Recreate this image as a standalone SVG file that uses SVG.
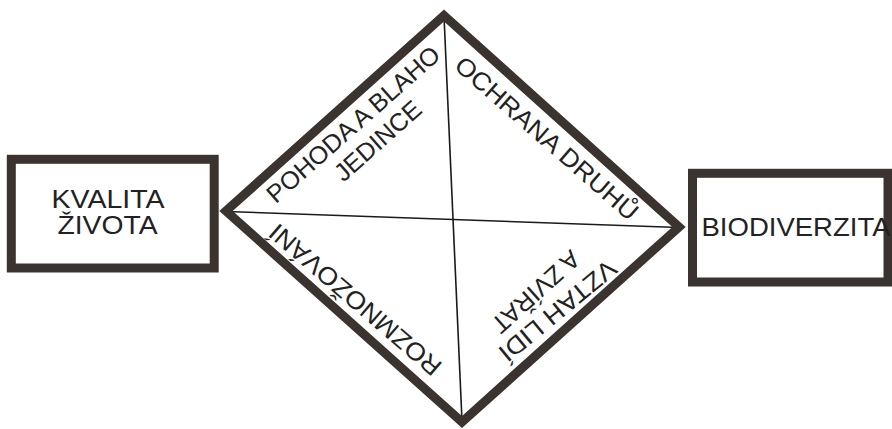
<svg xmlns="http://www.w3.org/2000/svg" width="892" height="429" viewBox="0 0 892 429">
<style>
.box{fill:none;stroke:#3a332f;stroke-width:9}
.dia{fill:none;stroke:#3a332f;stroke-width:9;stroke-linejoin:miter}
.thin{stroke:#1a1a1a;stroke-width:1.6;fill:none}
.t{font-family:"Liberation Sans",Arial,sans-serif;font-size:25px;fill:#222;text-anchor:middle}
</style>
<rect width="892" height="429" fill="#ffffff"/>
<g id="kvalita">
<rect class="box" x="11.3" y="159.3" width="202.9" height="108.7" stroke-width="8.5"/>
<text class="t" x="108" y="208" textLength="113" lengthAdjust="spacingAndGlyphs">KVALITA</text>
<text class="t" x="107.5" y="234" textLength="100" lengthAdjust="spacingAndGlyphs">ŽIVOTA</text>
</g>
<g id="biodiverzita">
<rect class="box" x="692.5" y="173.3" width="195.5" height="108.7"/>
<text class="t" x="796" y="236" textLength="189" lengthAdjust="spacingAndGlyphs">BIODIVERZITA</text>
</g>
<g id="connectors">
<line class="thin" x1="444" y1="16" x2="462" y2="421"/>
<line class="thin" x1="226" y1="211.5" x2="679" y2="227.5"/>
</g>
<g id="diamond">
<polygon class="dia" points="444,15.5 679,227 462,422 226,211"/>
</g>
<g id="pohoda">
<text class="t" transform="translate(353,124) rotate(-41.5)" y="9" textLength="222" lengthAdjust="spacingAndGlyphs">POHODA A BLAHO</text>
<text class="t" transform="translate(377.5,140.5) rotate(-41.5)" y="9">JEDINCE</text>
</g>
<g id="ochrana">
<text class="t" transform="translate(547,138) rotate(41.2)" y="9" textLength="234" lengthAdjust="spacingAndGlyphs">OCHRANA DRUHŮ</text>
</g>
<g id="rozmnozovani">
<text class="t" transform="translate(355,300) rotate(-139.3)" y="9" textLength="218" lengthAdjust="spacingAndGlyphs">ROZMNOŽOVÁNÍ</text>
</g>
<g id="vztah">
<text class="t" transform="translate(558,311) rotate(140.5)" y="9" textLength="144" lengthAdjust="spacingAndGlyphs">VZTAH LIDÍ</text>
<text class="t" transform="translate(536,292) rotate(138)" y="9">A ZVÍŘAT</text>
</g>
</svg>
